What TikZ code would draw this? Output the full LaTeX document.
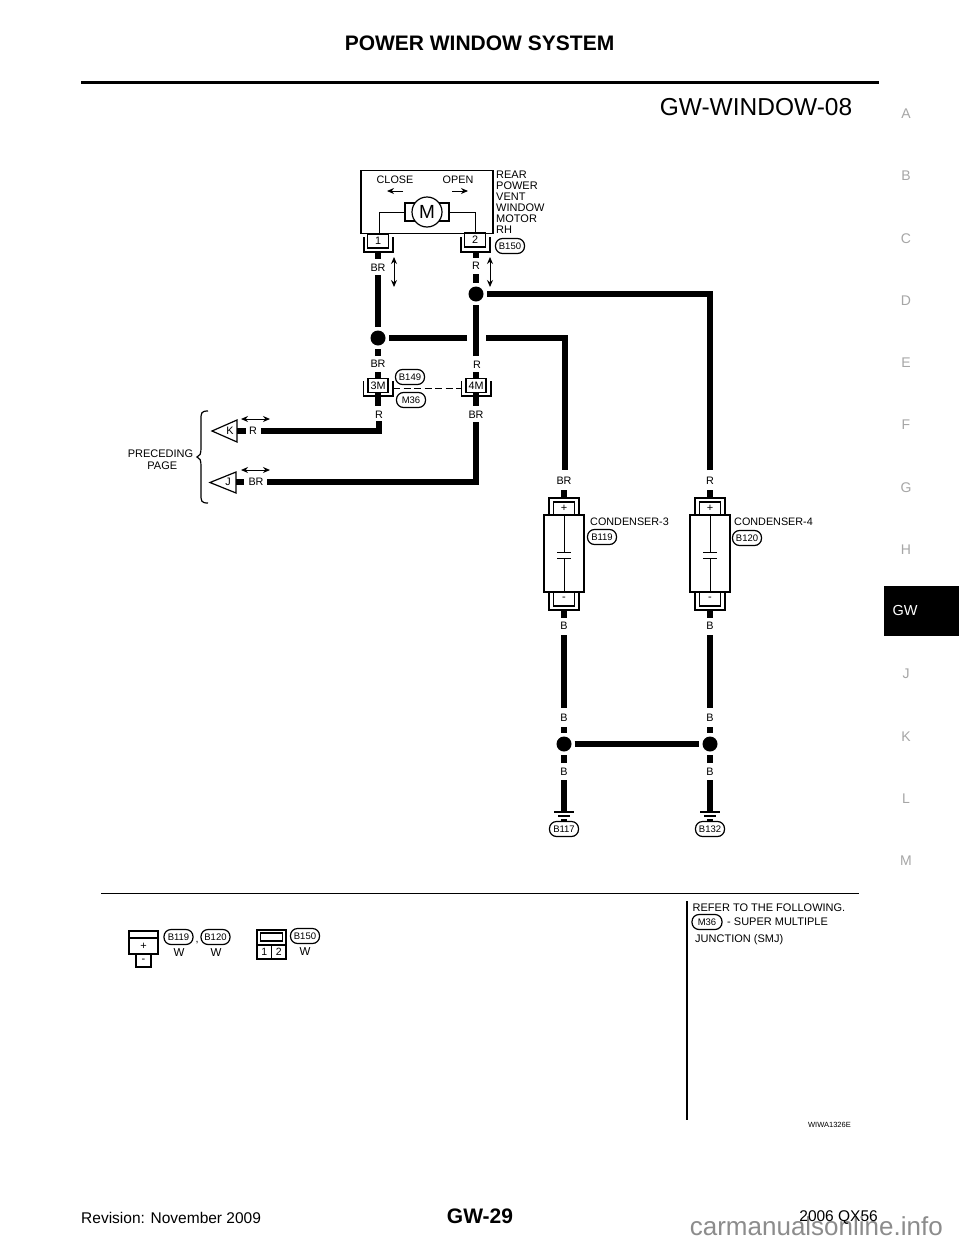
\documentclass[tikz,border=0pt]{standalone}
\usepackage{fontspec}
\setmainfont{Liberation Sans}
\usetikzlibrary{arrows.meta}
\tikzset{
  wire/.style={line width=5.5pt},
  thin wire/.style={line width=1pt},
  lbl/.style={inner sep=0pt,font=\fontsize{10.8}{12}\selectfont},
  conn/.style={draw,rounded corners=7pt,inner sep=0pt,minimum width=29pt,minimum height=15pt,line width=1.2pt,font=\fontsize{9.5}{10}\selectfont},
  dotn/.style={circle,fill=black,inner sep=0pt,minimum size=15pt},
  pin/.style={draw,line width=1.2pt,inner sep=0pt,minimum width=21pt,minimum height=14pt,font=\fontsize{10.8}{12}\selectfont},
  brk/.style={line width=1.2pt},
  tab/.style={inner sep=0pt,text=black!35,font=\fontsize{14}{16}\selectfont},
  onearrow/.style={-{Stealth[length=7pt,width=6pt]},line width=1pt},
  dblarrow/.style={{Stealth[length=7pt,width=6pt]}-{Stealth[length=7pt,width=6pt]},line width=1pt},
  gap/.style={shorten >=3pt}
}
\begin{document}
\begin{tikzpicture}[x=1pt,y=-1pt]
    \useasboundingbox (0,0) rectangle (960,1242);
    \fill[white] (0,0) rectangle (960,1242);

    % page frame
    \node[inner sep=0pt,font=\bfseries\fontsize{21}{24}\selectfont] (title) at (479.5,43) {POWER WINDOW SYSTEM};
    \draw[line width=3pt] (81,82) -- (879,82);
    \node[inner sep=0pt,font=\fontsize{24.5}{28}\selectfont] (sheet) at (756,107) {GW-WINDOW-08};
    \foreach \t/\y in {A/114,B/176,C/239,D/301,E/363,F/425,G/488,H/550,J/674,K/737,L/799,M/861}
      \node[tab] (tab\t) at (906,\y) {\t};
    \node[fill=black,minimum width=75pt,minimum height=50pt,inner sep=0pt] (tabGW) at (921.5,611) {};
    \node[inner sep=0pt,text=white,font=\fontsize{14.5}{16}\selectfont] (tabGWt) at (905,611) {GW};
    \node[inner sep=0pt,anchor=east,text=black!45,font=\fontsize{26}{28}\selectfont] (mark) at (943,1226) {carmanualsonline.info};
    \node[inner sep=0pt,font=\bfseries\fontsize{21}{24}\selectfont] (page) at (480,1216) {GW-29};
    \node[inner sep=0pt,anchor=west,font=\fontsize{15.5}{18}\selectfont] (rev) at (81,1218) {Revision: November 2009};
    \node[inner sep=0pt,anchor=east,font=\fontsize{15.5}{18}\selectfont] (model) at (878,1218) {2006 QX56};

    % motor
    \node[draw,line width=1.4pt,minimum width=132pt,minimum height=63pt,inner sep=0pt] (box) at (427,202) {};
    \node[draw,line width=1.2pt,minimum width=44pt,minimum height=18pt,inner sep=0pt] (mbody) at (427,212) {};
    \node[draw,circle,fill=white,line width=1.2pt,minimum size=30pt,inner sep=0pt,font=\fontsize{19}{20}\selectfont] (M) at (427,212) {M};
    \node[lbl] (close) at (395,180) {CLOSE};
    \node[lbl] (open) at (458,180) {OPEN};
    \coordinate (c1) at (403,191); \coordinate (c2) at (387,191);
    \coordinate (o1) at (452,191); \coordinate (o2) at (468,191);
    \draw[onearrow] (c1) -- (c2);
    \draw[onearrow] (o1) -- (o2);
    \node[inner sep=0pt,anchor=north west,align=left,font=\fontsize{11}{11}\selectfont] (mname) at (496,170.5) {REAR\\POWER\\VENT\\WINDOW\\MOTOR\\RH};
    \node[conn] (B150) at (510,246) {B150};

    \node[pin] (p1) at (378,241) {1};
    \node[pin] (p2) at (475,240) {2};
    \draw[thin wire] (379,233) |- (mbody.west);
    \draw[thin wire] (475,233) |- (mbody.east);
    \draw[brk] (364,237) |- (393,252) -- (393,237);
    \draw[brk] (461,237) |- (490,252) -- (490,237);

    % upper wires
    \node[dotn] (d1) at (378,338) {};
    \node[dotn] (d2) at (476,294) {};
    \node[lbl] (lBR) at (378,268) {BR};
    \node[lbl] (lR) at (476,266) {R};
    \draw[wire] (378,252) -- (378,259);
    \draw[wire] (476,252) -- (476,258);
    \draw[wire,gap] (378,275) -- (d1);
    \draw[wire,gap] (476,274) -- (d2);
    \coordinate (a1) at (394,257); \coordinate (a2) at (394,287);
    \coordinate (a3) at (490,257); \coordinate (a4) at (490,287);
    \draw[dblarrow] (a1) -- (a2);
    \draw[dblarrow] (a3) -- (a4);

    \draw[wire,gap] (476,356) -- (d2);
    \draw[wire,gap] (467,338) -- (d1);
    \draw[wire] (486,338) -- (565,338) -- (565,470);
    \draw[wire,gap] (710,470) -- (710,294) -- (d2);

    % junction connector
    \draw[wire,gap] (378,356) -- (d1);
    \node[lbl] (lBR2) at (378,364) {BR};
    \node[lbl] (lR2) at (477,365) {R};
    \node[pin,fill=white,minimum width=20pt] (c3M) at (378,385.5) {3M};
    \node[pin,fill=white,minimum width=20pt] (c4M) at (476,385.5) {4M};
    \draw[wire] (378,372) -- (c3M.north);
    \draw[wire] (476,372) -- (c4M.north);
    \draw[wire] (c3M.south) -- (378,406);
    \draw[wire] (c4M.south) -- (476,406);
    \draw[brk] (363.5,381) |- (393,396) -- (393,381);
    \draw[brk] (461.5,381) |- (491,396) -- (491,381);
    \draw[line width=1pt,dash pattern=on 7pt off 3.5pt] (393,388) -- (462,388);
    \node[conn] (B149) at (410,377) {B149};
    \node[conn] (M36) at (411,400) {M36};
    \node[lbl] (lR3) at (379,415) {R};
    \node[lbl] (lBR3) at (476,415) {BR};

    % preceding page
    \coordinate (kt) at (212,431);
    \coordinate (jt) at (210,482.5);
    \draw[brk,fill=white] (kt) -- (237,420) -- (237,442) -- cycle;
    \draw[brk,fill=white] (jt) -- (236,472) -- (236,493) -- cycle;
    \node[lbl] (K) at (230,431) {K};
    \node[lbl] (J) at (228,482) {J};
    \node[lbl] (lRk) at (253,431) {R};
    \node[lbl] (lBRj) at (256,482) {BR};
    \draw[wire] (237,431) -- (246,431);
    \draw[wire] (236,482) -- (244,482);
    \draw[wire] (261,431) -- (379,431) -- (379,421);
    \draw[wire] (267,482) -- (476,482) -- (476,422);
    \coordinate (ka) at (241,419); \coordinate (kb) at (270,419);
    \coordinate (ja) at (241,470); \coordinate (jb) at (270,470);
    \draw[dblarrow] (ka) -- (kb);
    \draw[dblarrow] (ja) -- (jb);
    \draw[brk] (208,411) .. controls (201,411) and (201,413) .. (201,420) -- (201,448) .. controls (201,454) and (200,456) .. (197,457) .. controls (200,458) and (201,460) .. (201,466) -- (201,494) .. controls (201,501) and (201,503) .. (208,503);
    \node[inner sep=0pt,align=right,font=\fontsize{11}{12.5}\selectfont] (prec) at (160.5,459.5) {PRECEDING\\PAGE\kern 16pt};

    % condensers
    \foreach \n/\x/\lab/\wn in {3/564/BR/B117,4/710/R/B132}{
      \node[lbl] (top\n) at (\x,481) {\lab};
      \draw[wire] (\x,490) -- (\x,497);
      \node[draw,line width=1.3pt,minimum width=40pt,minimum height=77pt,inner sep=0pt] (cap\n) at (\x,553.5) {};
      \node[draw,line width=1.2pt,minimum width=21pt,minimum height=13pt,inner sep=0pt,font=\fontsize{11}{12}\selectfont] (plus\n) at (\x,508.5) {+};
      \node[draw,line width=1.2pt,minimum width=21pt,minimum height=14pt,inner sep=0pt,font=\fontsize{11}{12}\selectfont] (minus\n) at (\x,599) {-};
      \draw[brk] (\x-15,514) |- (\x+15,498) -- (\x+15,514);
      \draw[brk] (\x-15,593) |- (\x+15,610) -- (\x+15,593);
      \draw[thin wire] (cap\n.north) -- (\x,552);
      \draw[thin wire] (\x,558) -- (cap\n.south);
      \draw[thin wire] (\x-7,552) -- (\x+7,552);
      \draw[thin wire] (\x-7,558) -- (\x+7,558);
      \draw[wire] (\x,611) -- (\x,618);
      \node[lbl] (bot\n) at (\x,626) {B};
      \draw[wire] (\x,635) -- (\x,708);
      \node[lbl] (mid\n) at (\x,718) {B};
      \node[dotn] (g\n) at (\x,744) {};
      \draw[wire,gap] (\x,727) -- (g\n);
      \draw[wire,gap] (\x,763) -- (g\n);
      \node[lbl] (low\n) at (\x,772) {B};
      \draw[wire] (\x,780) -- (\x,812);
      \draw[brk] (\x-10,812) -- (\x+10,812);
      \draw[brk] (\x-6,816) -- (\x+6,816);
      \draw[brk] (\x-3,820) -- (\x+3,820);
      \node[conn] (\wn) at (\x,829) {\wn};
    }
    \node[lbl,anchor=west] (nc3) at (590,522) {CONDENSER-3};
    \node[lbl,anchor=west] (nc4) at (734,522) {CONDENSER-4};
    \node[conn] (B119) at (602,537) {B119};
    \node[conn] (B120) at (747,538) {B120};
    \draw[wire,shorten <=3pt,shorten >=3pt] (g3) -- (g4);

    % lower part
    \draw[line width=1.4pt] (101,893.5) -- (859,893.5);
    \draw[line width=1.4pt] (687,901) -- (687,1120);
    \node[lbl,anchor=west,font=\fontsize{11}{12}\selectfont] (ref) at (692.5,908) {REFER TO THE FOLLOWING.};
    \node[conn,minimum width=30pt] (M36b) at (707,922) {M36};
    \node[lbl,anchor=west,font=\fontsize{11}{12}\selectfont] (smj) at (727,922) {- SUPER MULTIPLE};
    \node[lbl,anchor=west,font=\fontsize{11}{12}\selectfont] (smj2) at (695,940) {JUNCTION (SMJ)};
    \node[inner sep=0pt,anchor=east,font=\fontsize{7.5}{9}\selectfont] (wiwa) at (851,1125) {WIWA1326E};

    \node[draw,line width=1.2pt,minimum width=29pt,minimum height=7pt,inner sep=0pt] (h1) at (143.5,934.5) {};
    \node[draw,line width=1.2pt,minimum width=29pt,minimum height=16pt,inner sep=0pt,font=\fontsize{11}{12}\selectfont] (h2) at (143.5,946) {+};
    \node[draw,line width=1.2pt,minimum width=15pt,minimum height=13pt,inner sep=0pt,font=\fontsize{11}{12}\selectfont] (h3) at (143.5,960.5) {-};
    \node[conn] (Bb119) at (178.5,937) {B119};
    \node[conn] (Bb120) at (215.5,937) {B120};
    \node[lbl] (comma) at (197,943) {,};
    \node[lbl,font=\fontsize{11.5}{12}\selectfont] (w1t) at (179,953) {W};
    \node[lbl,font=\fontsize{11.5}{12}\selectfont] (w2t) at (216,953) {W};
    \node[draw,line width=1.2pt,minimum width=29pt,minimum height=15pt,inner sep=0pt] (k0) at (271.5,937.5) {};
    \node[draw,line width=1.2pt,minimum width=22pt,minimum height=8pt,inner sep=0pt] (k1) at (271.5,937) {};
    \node[draw,line width=1.2pt,minimum width=14.5pt,minimum height=14pt,inner sep=0pt,font=\fontsize{10.5}{12}\selectfont] (k2) at (264.25,952) {1};
    \node[draw,line width=1.2pt,minimum width=14.5pt,minimum height=14pt,inner sep=0pt,font=\fontsize{10.5}{12}\selectfont] (k3) at (278.75,952) {2};
    \node[conn] (Bb150) at (305,936) {B150};
    \node[lbl,font=\fontsize{11.5}{12}\selectfont] (w3t) at (305,952) {W};

  \end{tikzpicture}
\end{document}
